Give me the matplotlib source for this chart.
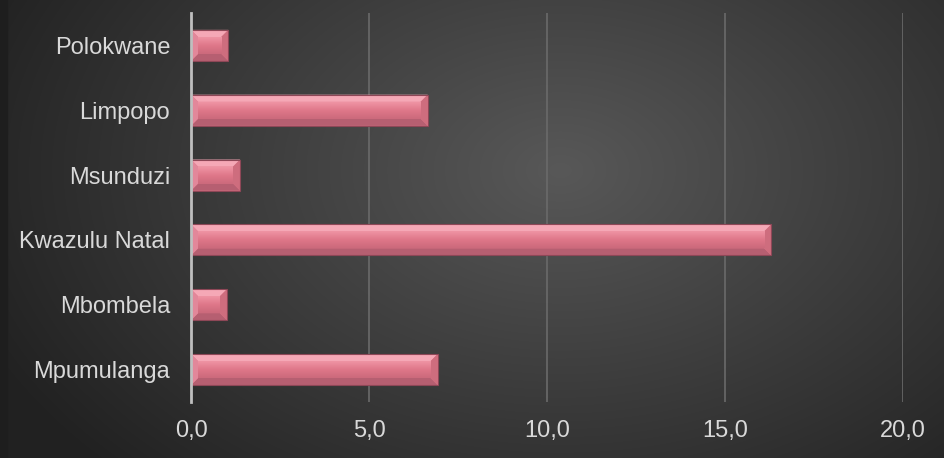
import numpy as np
import matplotlib
matplotlib.use("Agg")
import matplotlib.pyplot as plt
from matplotlib.patches import Polygon, Rectangle

# data, top to bottom
cities = ["Polokwane", "Limpopo", "Msunduzi", "Kwazulu Natal", "Mbombela", "Mpumulanga"]
values = [1.05, 6.65, 1.38, 16.3, 1.01, 6.93]
xticks = [0, 5, 10, 15, 20]
xlabels = ["0,0", "5,0", "10,0", "15,0", "20,0"]

plt.rcParams['font.family'] = ['Liberation Sans', 'DejaVu Sans']

fig = plt.figure(figsize=(9.44, 4.58), dpi=100)

# radial background gradient
bg = fig.add_axes([0, 0, 1, 1], zorder=0)
yy, xx = np.mgrid[0:458, 0:944]
r = np.sqrt(((xx - 560) / 560.0) ** 2 + ((yy - 170) / 380.0) ** 2)
shade = np.clip(0.345 - 0.19 * r, 0.13, 0.345)
bg.imshow(np.dstack([shade] * 3), aspect='auto', extent=[0, 1, 0, 1], origin='upper')
bg.add_patch(Rectangle((0, 0), 7 / 944, 1, color='#1e1e1e', transform=bg.transAxes))
bg.set_axis_off()

ax = fig.add_axes([191 / 944, 56 / 458, 712 / 944, 389 / 458], zorder=1)
ax.patch.set_alpha(0)

y = np.arange(len(cities))[::-1]
h = 0.48
bars = ax.barh(y, values, height=h, color='#DF7587', zorder=3)

# bevel edges for each bar
bx = 0.2   # bevel width in data units (x)
by = 0.11  # bevel height in data units (y)
face_cmap = matplotlib.colors.LinearSegmentedColormap.from_list(
    'face', ['#CC6A7C', '#DF7789', '#EE93A3'])
for yi, v in zip(y, values):
    x0, x1 = 0, v
    y0, y1 = yi - h / 2, yi + h / 2
    b = min(bx, v / 2)
    faces = [
        ([(x0, y1), (x1, y1), (x1 - b, y1 - by), (x0 + b, y1 - by)], '#F5A8B6'),  # top
        ([(x0, y0), (x1, y0), (x1 - b, y0 + by), (x0 + b, y0 + by)], '#B65F71'),  # bottom
        ([(x0, y0), (x0, y1), (x0 + b, y1 - by), (x0 + b, y0 + by)], '#E2879A'),  # left
        ([(x1, y0), (x1, y1), (x1 - b, y1 - by), (x1 - b, y0 + by)], '#CE6D7E'),  # right
    ]
    for pts, c in faces:
        ax.add_patch(Polygon(pts, closed=True, color=c, lw=0, zorder=4))
    # soft gradient on the front face
    grad = np.linspace(0, 1, 20).reshape(-1, 1)
    ax.imshow(grad, cmap=face_cmap, aspect='auto',
              extent=[x0 + b, x1 - b, y0 + by, y1 - by], origin='lower', zorder=5)
    ax.add_patch(Rectangle((x0, y0), v, h, fill=False, ec='#8E4757', lw=0.8, zorder=6))

ax.set_xlim(0, 20)
ax.set_ylim(-0.5, len(cities) - 0.5)
ax.set_xticks(xticks)
ax.set_xticklabels(xlabels)
ax.set_yticks(y)
ax.set_yticklabels(cities)
ax.tick_params(axis='both', length=0, labelsize=17, colors='#D9D9D9')
ax.tick_params(axis='y', pad=15)
ax.tick_params(axis='x', pad=13)
ax.grid(axis='x', color='#6A6A6A', lw=1.2, zorder=1)
for s in ['top', 'right', 'bottom']:
    ax.spines[s].set_visible(False)
ax.spines['left'].set_color('#BFBFBF')
ax.spines['left'].set_linewidth(2)
ax.spines['left'].set_zorder(7)

fig.savefig("out.png", dpi=100)
